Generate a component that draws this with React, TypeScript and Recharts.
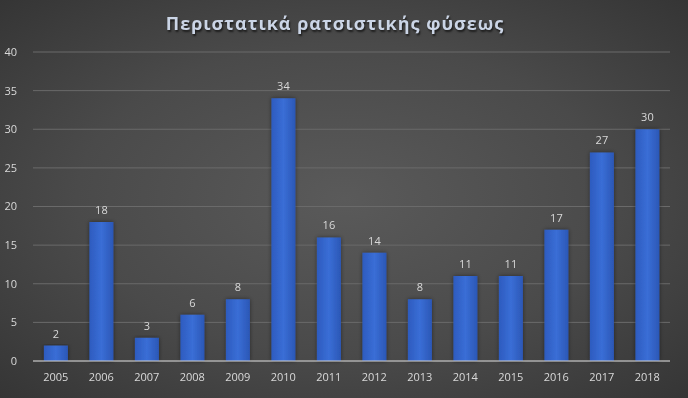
import { Bar, BarChart, CartesianGrid, LabelList, XAxis, YAxis } from 'recharts';

const years = ['2005', '2006', '2007', '2008', '2009', '2010', '2011', '2012', '2013', '2014', '2015', '2016', '2017', '2018'];
const incidents = [2, 18, 3, 6, 8, 34, 16, 14, 8, 11, 11, 17, 27, 30];
const yTicks = [0, 5, 10, 15, 20, 25, 30, 35, 40];

const data = years.map((year, i) => ({ year, incidents: incidents[i] }));

const tickStyle = { fill: '#d9d9d9', fontSize: 11, fontFamily: 'Open Sans, sans-serif' };

export default function App() {
  return (
    <div
      style={{
        position: 'fixed',
        left: 0,
        top: 0,
        width: 688,
        height: 398,
        background: 'radial-gradient(ellipse at 50% 50%, #5a5a5a 0%, #4a4a4a 55%, #353535 100%)',
        overflow: 'hidden',
      }}
    >
      <div
        style={{
          position: 'absolute',
          top: 11,
          left: 0,
          width: 670,
          textAlign: 'center',
          fontFamily: 'Open Sans, sans-serif',
          fontSize: 18,
          fontWeight: 700,
          letterSpacing: 1,
          color: '#cbd5e6',
          textShadow: '1px 2px 2px rgba(0,0,0,0.6)',
        }}
      >
        Περιστατικά ρατσιστικής φύσεως
      </div>
      <BarChart
        width={688}
        height={398}
        data={data}
        margin={{ top: 52, right: 18, bottom: 7, left: 0 }}
        barCategoryGap="24%"
      >
        <defs>
          <linearGradient id="barFill" x1="0" y1="0" x2="1" y2="0">
            <stop offset="0%" stopColor="#2d5bbf" />
            <stop offset="50%" stopColor="#3a6ed6" />
            <stop offset="100%" stopColor="#2b57b6" />
          </linearGradient>
          <filter id="barShadow" x="-30%" y="-10%" width="160%" height="120%">
            <feDropShadow dx="0" dy="0" stdDeviation="2" floodColor="#000" floodOpacity="0.45" />
          </filter>
        </defs>
        <CartesianGrid vertical={false} stroke="#6a6a6a" strokeWidth={1} />
        <XAxis
          dataKey="year"
          height={30}
          tick={tickStyle}
          tickLine={false}
          axisLine={{ stroke: '#d0d0d0', strokeWidth: 1 }}
          tickMargin={6}
        />
        <YAxis
          width={33}
          domain={[0, 40]}
          ticks={yTicks}
          tick={tickStyle}
          tickLine={false}
          axisLine={false}
          tickMargin={10}
        />
        <Bar dataKey="incidents" fill="url(#barFill)" filter="url(#barShadow)" isAnimationActive={false}>
          <LabelList dataKey="incidents" position="top" offset={8} fill="#d9d9d9" fontSize={11} fontFamily="Open Sans, sans-serif" />
        </Bar>
      </BarChart>
    </div>
  );
}
